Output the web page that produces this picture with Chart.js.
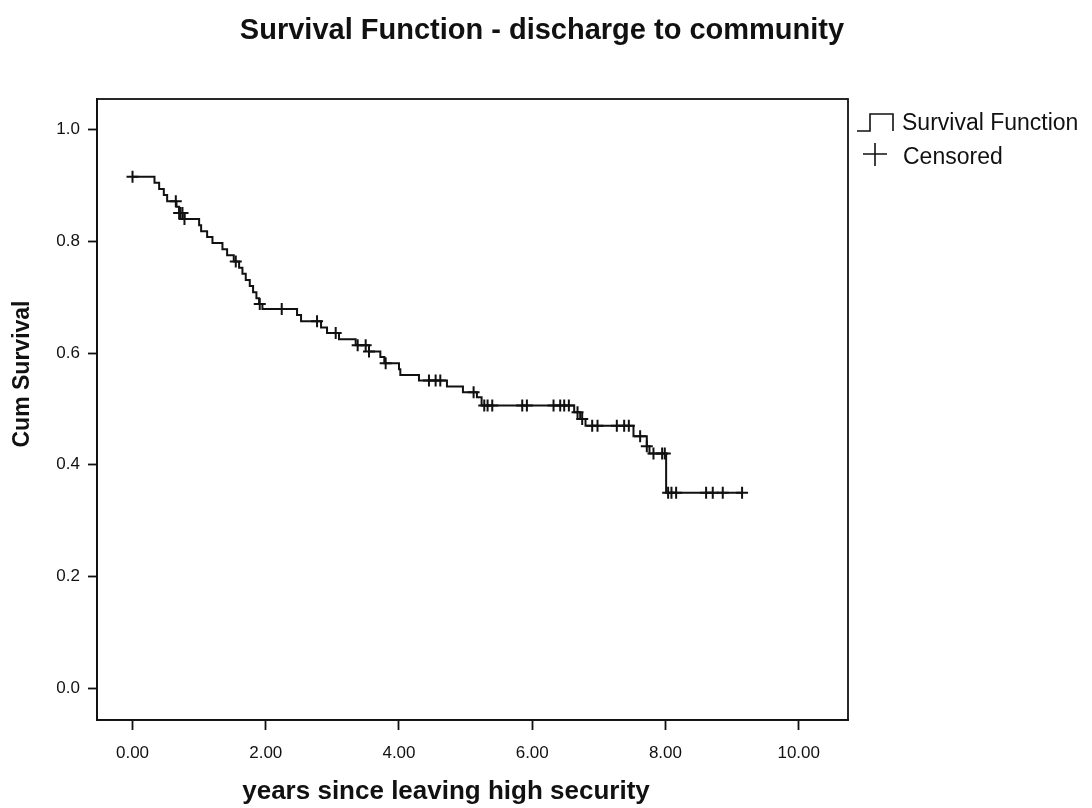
<!DOCTYPE html>
<html>
<head>
<meta charset="utf-8">
<script src="https://cdn.jsdelivr.net/npm/chart.js@4/dist/chart.umd.min.js"></script>
<style>
  html, body { margin: 0; padding: 0; background: #fff; }
  #wrap { width: 1092px; height: 808px; }
</style>
</head>
<body>
<div id="wrap"><canvas id="c" width="1092" height="808"></canvas></div>
<script>
// Kaplan-Meier steps: time (years) and survival after the drop
const stepTimes = [0, 0.33, 0.40, 0.47, 0.52, 0.66, 0.70, 0.78, 1.00, 1.03, 1.12, 1.20, 1.35, 1.42,
  1.52, 1.60, 1.65, 1.70, 1.76, 1.81, 1.86, 1.90, 1.95, 2.47, 2.53, 2.83, 2.92, 3.10, 3.35, 3.55,
  3.72, 3.78, 4.00, 4.02, 4.30, 4.72, 4.96, 5.17, 5.24, 6.63, 6.72, 6.80, 7.52, 7.72, 7.76, 8.01, 9.15];
const stepSurv = [0.916, 0.905, 0.894, 0.883, 0.872, 0.862, 0.851, 0.840, 0.829, 0.818, 0.808, 0.797, 0.786, 0.775,
  0.764, 0.753, 0.742, 0.731, 0.720, 0.709, 0.698, 0.688, 0.679, 0.668, 0.657, 0.646, 0.636, 0.625, 0.614, 0.603,
  0.593, 0.582, 0.571, 0.561, 0.551, 0.540, 0.530, 0.521, 0.506, 0.494, 0.482, 0.470, 0.451, 0.433, 0.420, 0.350, 0.350];

// censored observations (years)
const censorTimes = [0.0, 0.65, 0.70, 0.72, 0.75, 0.78, 1.55, 1.91, 2.24, 2.77, 3.05, 3.38, 3.50, 3.55, 3.80,
  4.45, 4.55, 4.62, 5.12, 5.28, 5.33, 5.40, 5.85, 5.92, 6.32, 6.42, 6.48, 6.55, 6.68, 6.75,
  6.90, 6.98, 7.27, 7.38, 7.45, 7.62, 7.72, 7.82, 7.95, 7.99, 8.04, 8.09, 8.16, 8.61, 8.71, 8.86, 9.15];

const xTicks = [0, 2, 4, 6, 8, 10];
const yTicks = [0, 0.2, 0.4, 0.6, 0.8, 1.0];

function survAt(t) {
  let s = stepSurv[0];
  for (let i = 0; i < stepTimes.length; i++) {
    if (stepTimes[i] <= t) s = stepSurv[i];
  }
  return s;
}

const curve = stepTimes.map((t, i) => ({ x: t, y: stepSurv[i] }));
const censored = censorTimes.map(t => ({ x: t, y: survAt(t) }));

const FONT = '"Liberation Sans", Arial, sans-serif';
const INK = '#111';

const extras = {
  id: 'extras',
  afterDraw(chart) {
    const ctx = chart.ctx;
    const a = chart.chartArea;
    ctx.save();
    // frame
    ctx.strokeStyle = INK;
    ctx.lineWidth = 1.8;
    ctx.strokeRect(a.left, a.top, a.right - a.left, a.bottom - a.top);

    ctx.fillStyle = INK;
    // title
    ctx.font = 'bold 29px ' + FONT;
    ctx.textAlign = 'center';
    ctx.textBaseline = 'middle';
    ctx.fillText('Survival Function - discharge to community', 542, 31);

    // x axis title
    ctx.font = 'bold 26px ' + FONT;
    ctx.fillText('years since leaving high security', 446, 792);

    // y axis title
    ctx.save();
    ctx.translate(23, 374);
    ctx.rotate(-Math.PI / 2);
    ctx.font = 'bold 23px ' + FONT;
    ctx.fillText('Cum Survival', 0, 0);
    ctx.restore();

    // legend
    ctx.lineWidth = 1.6;
    ctx.beginPath();
    ctx.moveTo(857, 131);
    ctx.lineTo(870, 131);
    ctx.lineTo(870, 114);
    ctx.lineTo(893, 114);
    ctx.lineTo(893, 131);
    ctx.stroke();
    ctx.beginPath();
    ctx.moveTo(863, 154);
    ctx.lineTo(887, 154);
    ctx.moveTo(875, 143);
    ctx.lineTo(875, 166);
    ctx.stroke();
    ctx.font = '23px ' + FONT;
    ctx.textAlign = 'left';
    ctx.textBaseline = 'alphabetic';
    ctx.fillText('Survival Function', 902, 130);
    ctx.fillText('Censored', 903, 164);
    ctx.restore();
  }
};

new Chart(document.getElementById('c'), {
  type: 'scatter',
  data: {
    datasets: [
      {
        label: 'Survival Function',
        data: curve,
        showLine: true,
        stepped: true,
        borderColor: INK,
        borderWidth: 2,
        pointRadius: 0,
        fill: false
      },
      {
        label: 'Censored',
        data: censored,
        showLine: false,
        pointStyle: 'cross',
        pointRadius: 6,
        pointBorderWidth: 2,
        pointBorderColor: INK,
        pointBackgroundColor: INK
      }
    ]
  },
  options: {
    responsive: false,
    animation: false,
    layout: { padding: { left: 0, right: 244, top: 99, bottom: 0 } },
    plugins: {
      legend: { display: false },
      title: { display: false },
      tooltip: { enabled: false }
    },
    scales: {
      x: {
        type: 'linear',
        min: -0.533,
        max: 10.74,
        afterFit(s) { s.height = 88; },
        afterBuildTicks(s) { s.ticks = xTicks.map(v => ({ value: v })); },
        ticks: {
          callback: v => v.toFixed(2),
          font: { family: FONT, size: 17 },
          color: INK,
          padding: 13,
          maxRotation: 0
        },
        grid: { drawOnChartArea: false, drawTicks: true, tickLength: 10, tickColor: INK, tickWidth: 1.8 },
        border: { display: true, color: INK, width: 1.8 }
      },
      y: {
        type: 'linear',
        min: -0.057,
        max: 1.055,
        afterFit(s) { s.width = 97; },
        afterBuildTicks(s) { s.ticks = yTicks.map(v => ({ value: v })); },
        ticks: {
          callback: v => v.toFixed(1),
          font: { family: FONT, size: 17 },
          color: INK,
          padding: 8
        },
        grid: { drawOnChartArea: false, drawTicks: true, tickLength: 9, tickColor: INK, tickWidth: 1.8 },
        border: { display: true, color: INK, width: 1.8 }
      }
    }
  },
  plugins: [extras]
});
</script>
</body>
</html>
